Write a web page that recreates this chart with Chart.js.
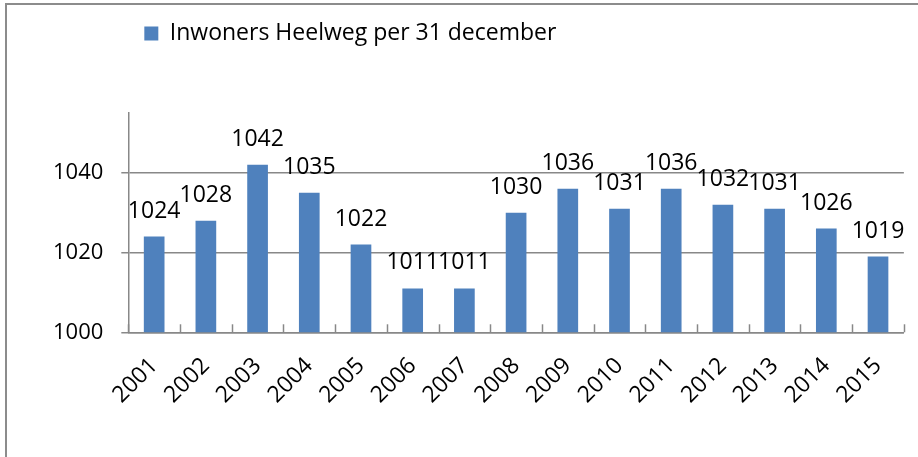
<!DOCTYPE html>
<html>
<head>
<meta charset="utf-8">
<script src="https://cdn.jsdelivr.net/npm/chart.js@4"></script>
<style>
  html, body { margin: 0; padding: 0; background: #fff; }
  #wrap { width: 918px; height: 457px; position: relative; }
</style>
</head>
<body>
<div id="wrap"><canvas id="chart" width="918" height="457"></canvas></div>
<script>
const years = ["2001", "2002", "2003", "2004", "2005", "2006", "2007", "2008",
  "2009", "2010", "2011", "2012", "2013", "2014", "2015"];
const inwoners = [1024, 1028, 1042, 1035, 1022, 1011, 1011, 1030,
  1036, 1031, 1036, 1032, 1031, 1026, 1019];
const seriesName = "Inwoners Heelweg per 31 december";
const yTicks = [1000, 1020, 1040];

const FONT = "'Open Sans', sans-serif";
const GRAY = "#888888";

// outer frame (left/top edges visible in the picture)
const framePlugin = {
  id: "frame",
  beforeDraw(chart) {
    const ctx = chart.ctx;
    ctx.save();
    ctx.strokeStyle = "#8c8c8c";
    ctx.lineWidth = 2;
    ctx.strokeRect(6, 4, chart.width + 20, chart.height + 20);
    ctx.restore();
  }
};

// leave extra room under the legend
const legendGap = {
  id: "legendGap",
  beforeInit(chart) {
    const fit = chart.legend.fit;
    chart.legend.fit = function () {
      fit.call(this);
      this.height += 58;
    };
  }
};

// small tick marks pointing up from the x axis, between categories
const innerTicks = {
  id: "innerTicks",
  afterDraw(chart) {
    const x = chart.scales.x;
    const ctx = chart.ctx;
    const step = x.getPixelForValue(1) - x.getPixelForValue(0);
    ctx.save();
    ctx.strokeStyle = GRAY;
    ctx.lineWidth = 1.5;
    for (let i = 0; i <= years.length; i++) {
      const px = Math.round(x.getPixelForValue(i) - step / 2) + 0.5;
      ctx.beginPath();
      ctx.moveTo(px, x.top);
      ctx.lineTo(px, x.top - 8);
      ctx.stroke();
    }
    ctx.restore();
  }
};

// value labels above the bars
const valueLabels = {
  id: "valueLabels",
  afterDatasetsDraw(chart) {
    const ctx = chart.ctx;
    const meta = chart.getDatasetMeta(0);
    ctx.save();
    ctx.font = "23px " + FONT;
    ctx.fillStyle = "#000";
    ctx.textAlign = "center";
    ctx.textBaseline = "alphabetic";
    meta.data.forEach((bar, i) => {
      ctx.fillText(String(inwoners[i]), bar.x, bar.y - 19);
    });
    ctx.restore();
  }
};

new Chart(document.getElementById("chart"), {
  type: "bar",
  data: {
    labels: years,
    datasets: [{
      label: seriesName,
      data: inwoners,
      backgroundColor: "#4F81BD",
      borderWidth: 0,
      categoryPercentage: 1,
      barPercentage: 0.4
    }]
  },
  options: {
    responsive: false,
    animation: false,
    layout: { padding: { left: 35, right: 5, top: 6, bottom: 28 } },
    plugins: {
      legend: {
        position: "top",
        align: "start",
        fullSize: false,
        labels: {
          boxWidth: 14,
          boxHeight: 14,
          padding: 16,
          color: "#000",
          font: { family: FONT, size: 23 }
        }
      },
      tooltip: { enabled: false }
    },
    scales: {
      x: {
        grid: { display: true, drawOnChartArea: false, drawTicks: false, color: GRAY },
        border: { color: GRAY, width: 1.5 },
        ticks: {
          autoSkip: false,
          minRotation: 45,
          maxRotation: 45,
          padding: 20,
          color: "#000",
          font: { family: FONT, size: 23 }
        }
      },
      y: {
        min: 1000,
        max: 1055,
        afterBuildTicks(scale) {
          scale.ticks = yTicks.map(v => ({ value: v }));
        },
        grid: {
          color: GRAY,
          lineWidth: 1.5,
          tickLength: 7
        },
        border: { color: GRAY, width: 1.5 },
        ticks: {
          padding: 18,
          color: "#000",
          font: { family: FONT, size: 22 },
          callback: v => String(v)
        }
      }
    }
  },
  plugins: [framePlugin, legendGap, innerTicks, valueLabels]
});
</script>
</body>
</html>
